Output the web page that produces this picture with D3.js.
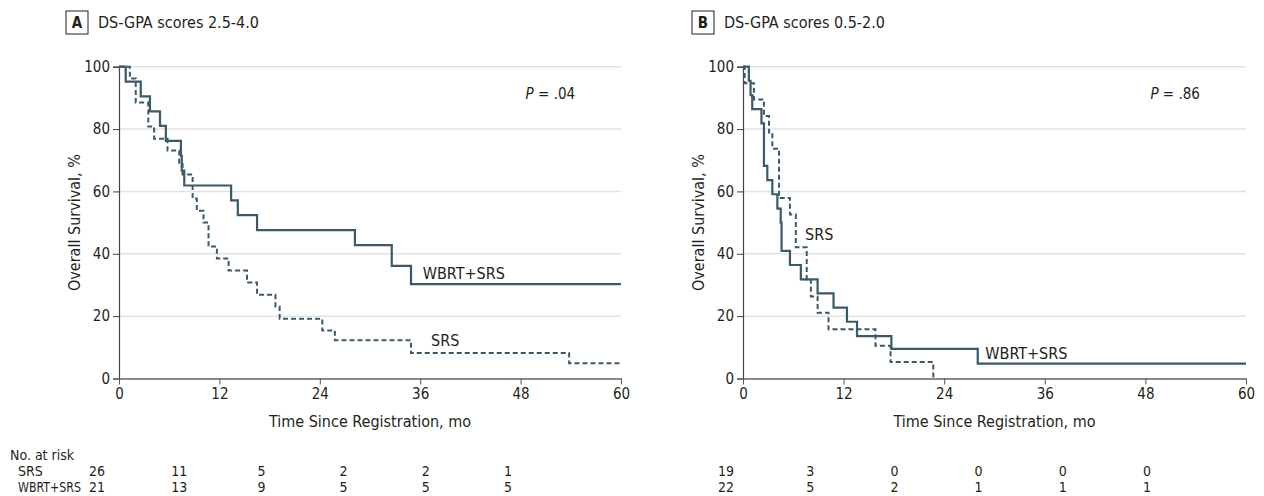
<!DOCTYPE html>
<html>
<head>
<meta charset="utf-8">
<script src="https://cdn.jsdelivr.net/npm/d3@7"></script>
<style>
  body { margin: 0; background: #fff; }
  svg text { font-family: "Liberation Sans Narrow", "DejaVu Sans Condensed", "Roboto", sans-serif; fill: #231f20; }
</style>
</head>
<body>
<svg id="km" width="1264" height="496"></svg>
<script>
// ---- data ----
const xTicks = [0, 12, 24, 36, 48, 60];
const yTicks = [0, 20, 40, 60, 80, 100];
const riskTimes = [0, 12, 24, 36, 48, 60];

// panel A: DS-GPA 2.5-4.0
const timeA_wbrt = [0, 0.8, 2.6, 3.7, 4.9, 5.6, 7.4, 7.5, 7.8, 13.4, 14.2, 16.5, 28.2, 32.6, 34.9, 60];
const survA_wbrt = [100, 95.2, 90.5, 85.7, 81.0, 76.2, 71.4, 66.7, 61.9, 57.1, 52.4, 47.6, 42.8, 36.1, 30.3, 30.3];
const timeA_srs = [0, 1.3, 2.0, 3.5, 4.2, 5.8, 7.2, 7.6, 8.8, 9.3, 10.1, 10.7, 11.7, 13.1, 15.3, 16.5, 18.7, 19.2, 24.3, 25.8, 34.9, 53.8, 60];
const survA_srs = [100, 96.2, 88.5, 80.8, 76.9, 73.1, 69.2, 65.4, 57.7, 53.8, 50.0, 42.3, 38.5, 34.6, 30.8, 26.9, 23.1, 19.2, 15.4, 12.3, 8.2, 4.9, 4.9];
const riskA_srs = [26, 11, 5, 2, 2, 1];
const riskA_wbrt = [21, 13, 9, 5, 5, 5];

// panel B: DS-GPA 0.5-2.0
const timeB_wbrt = [0, 0.7, 0.9, 1.1, 2.2, 2.5, 2.9, 3.5, 4.1, 4.5, 4.6, 5.6, 6.9, 8.9, 10.8, 12.4, 13.6, 17.7, 28.0, 60];
const survB_wbrt = [100, 95.5, 90.9, 86.4, 81.8, 68.2, 63.6, 59.1, 54.5, 50.0, 40.9, 36.4, 31.8, 27.3, 22.7, 18.2, 13.6, 9.5, 4.8, 4.8];
const timeB_srs = [0, 0.2, 1.3, 2.5, 3.1, 3.5, 4.3, 5.6, 6.3, 7.6, 8.1, 8.9, 10.2, 15.8, 17.6, 22.7];
const survB_srs = [100, 94.7, 89.5, 84.2, 78.9, 73.7, 57.9, 52.6, 42.1, 31.6, 26.3, 21.1, 15.8, 10.5, 5.3, 0];
const riskB_srs = [19, 3, 0, 0, 0, 0];
const riskB_wbrt = [22, 5, 2, 1, 1, 1];

const groups = ['SRS', 'WBRT+SRS'];
const lineColor = '#3a5969';
const rowY = [476, 492];

const svg = d3.select('svg#km');

function drawPanel(p) {
    const x = d3.scaleLinear().domain([0, 60]).range(p.xr);
    const y = d3.scaleLinear().domain([0, 100]).range([378.5, 66.7]);
    const rx = d3.scaleLinear().domain([0, 60]).range(p.riskr);
    const g = svg.append('g');

    // header box + title
    g.append('rect')
        .attr('x', p.boxX).attr('y', 11).attr('width', 22).attr('height', 23)
        .attr('fill', 'none').attr('stroke', '#231f20').attr('stroke-width', 1);
    g.append('text')
        .attr('x', p.boxX + 11).attr('y', 28).attr('text-anchor', 'middle')
        .style('font-size', '15px').style('font-weight', 'bold')
        .text(p.letter);
    g.append('text')
        .attr('x', p.boxX + 32).attr('y', 28)
        .style('font-size', '16px')
        .text(p.title);

    // grid
    g.append('g').selectAll('line')
        .data(yTicks.slice(1))
        .enter().append('line')
        .attr('x1', x(0)).attr('x2', x(60))
        .attr('y1', d => y(d)).attr('y2', d => y(d))
        .attr('stroke', '#e2e2e2').attr('stroke-width', 1.5);

    // axes
    const yAxis = g.append('g')
        .attr('transform', 'translate(' + x(0) + ',0)')
        .call(d3.axisLeft(y).tickValues(yTicks).tickSize(6).tickPadding(3));
    yAxis.select('.domain').attr('stroke', '#444').attr('stroke-width', 1.2);
    yAxis.selectAll('.tick line').attr('stroke', '#444');
    yAxis.selectAll('.tick text').style('font-size', '15px').attr('fill', '#231f20');

    const xAxis = g.append('g')
        .attr('transform', 'translate(0,' + y(0) + ')')
        .call(d3.axisBottom(x).tickValues(xTicks).tickSize(6).tickPadding(4).tickSizeOuter(0));
    xAxis.select('.domain').attr('stroke', '#8a8a8a').attr('stroke-width', 2);
    xAxis.selectAll('.tick line').attr('stroke', '#555');
    xAxis.selectAll('.tick text').style('font-size', '15px').attr('fill', '#231f20');

    // axis titles
    g.append('text')
        .attr('transform', 'translate(' + (x(0) - 39) + ',' + y(50) + ') rotate(-90)')
        .attr('text-anchor', 'middle')
        .style('font-size', '16px')
        .text('Overall Survival, %');
    g.append('text')
        .attr('x', x(30)).attr('y', 427)
        .attr('text-anchor', 'middle')
        .style('font-size', '16px')
        .text('Time Since Registration, mo');

    // curves
    const line = d3.line()
        .x(d => x(d[0]))
        .y(d => y(d[1]))
        .curve(d3.curveStepAfter);
    g.append('path')
        .datum(d3.zip(p.tSrs, p.sSrs))
        .attr('d', line)
        .attr('fill', 'none').attr('stroke', lineColor)
        .attr('stroke-width', 2).attr('stroke-dasharray', '5,3');
    g.append('path')
        .datum(d3.zip(p.tWbrt, p.sWbrt))
        .attr('d', line)
        .attr('fill', 'none').attr('stroke', lineColor)
        .attr('stroke-width', 2.2);

    // curve labels
    p.labels.forEach(l => {
        g.append('text')
            .attr('x', x(l.t)).attr('y', y(l.s))
            .style('font-size', '16px')
            .text(l.text);
    });

    // P value
    const pv = g.append('text')
        .attr('x', x(p.pAt[0])).attr('y', y(p.pAt[1]))
        .style('font-size', '15px');
    pv.append('tspan').style('font-style', 'italic').text('P');
    pv.append('tspan').text(' = ' + p.pval);

    // number at risk
    [p.rSrs, p.rWbrt].forEach((r, i) => {
        g.append('g').selectAll('text')
            .data(r)
            .enter().append('text')
            .attr('x', (d, j) => rx(riskTimes[j]))
            .attr('y', rowY[i])
            .attr('text-anchor', 'middle')
            .style('font-size', '14px')
            .text(d => d);
    });
}

// row headers of the risk table
svg.append('text').attr('x', 10).attr('y', 460).style('font-size', '14px').text('No. at risk');
groups.forEach((gname, i) => {
    const t = svg.append('text').attr('x', 18).attr('y', rowY[i]).style('font-size', '14px').text(gname);
    if (gname.length > 4) t.attr('textLength', 63).attr('lengthAdjust', 'spacingAndGlyphs');
});

drawPanel({
    letter: 'A', title: 'DS-GPA scores 2.5-4.0', boxX: 66,
    xr: [119, 621], riskr: [97, 508],
    tSrs: timeA_srs, sSrs: survA_srs, tWbrt: timeA_wbrt, sWbrt: survA_wbrt,
    rSrs: riskA_srs, rWbrt: riskA_wbrt,
    labels: [{text: 'WBRT+SRS', t: 36.3, s: 31.8}, {text: 'SRS', t: 37.3, s: 10.4}],
    pAt: [48.6, 89.5], pval: '.04'
});
drawPanel({
    letter: 'B', title: 'DS-GPA scores 0.5-2.0', boxX: 692,
    xr: [743, 1246], riskr: [726, 1147],
    tSrs: timeB_srs, sSrs: survB_srs, tWbrt: timeB_wbrt, sWbrt: survB_wbrt,
    rSrs: riskB_srs, rWbrt: riskB_wbrt,
    labels: [{text: 'SRS', t: 7.4, s: 44.3}, {text: 'WBRT+SRS', t: 28.9, s: 6.4}],
    pAt: [48.6, 89.5], pval: '.86'
});
</script>
</body>
</html>
